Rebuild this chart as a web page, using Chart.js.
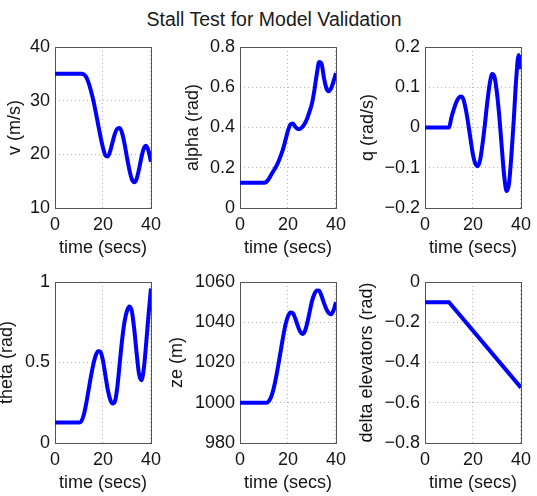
<!DOCTYPE html>
<html>
<head>
<meta charset="utf-8">
<title>Stall Test for Model Validation</title>
<script src="https://cdn.jsdelivr.net/npm/chart.js@4.4.1/dist/chart.umd.min.js"></script>
<style>
  body { margin: 0; background: #fff; width: 537px; height: 496px; position: relative; overflow: hidden; font-family: "Liberation Sans", Arial, sans-serif; }
  #title { position: absolute; left: 0; width: 548px; top: 10px; line-height: 19px; text-align: center; font-size: 19.5px; color: #1a1a1a; }
  canvas { position: absolute; }
</style>
</head>
<body>
<div id="title">Stall Test for Model Validation</div>
<canvas id="vChart"></canvas>
<canvas id="alphaChart"></canvas>
<canvas id="qChart"></canvas>
<canvas id="thetaChart"></canvas>
<canvas id="zeChart"></canvas>
<canvas id="deltaChart"></canvas>
<script>
const time = [0, 1, 2, 3, 4, 5, 6, 7, 8, 9, 10, 11, 12, 13, 14, 15, 16, 17, 18, 19, 20,
  21, 22, 23, 24, 25, 26, 27, 28, 29, 30, 31, 32, 33, 34, 35, 36, 37, 38, 39, 40];

const velocity = [35, 35, 35, 35, 35, 35, 35, 35, 35, 35, 35, 35, 34.9, 34.4, 33.3, 31.8, 30, 27.8, 25.5, 23.2, 21.2,
  19.8, 19.6, 20.6, 22.3, 23.9, 24.8, 24.9, 23.9, 21.9, 19.4, 17.1, 15.4, 14.8, 15.4, 17.2, 19.4, 21.1, 21.6, 20.6, 18.6];

const alpha = [0.126, 0.126, 0.126, 0.126, 0.126, 0.126, 0.126, 0.126, 0.126, 0.126, 0.126, 0.13, 0.145, 0.165, 0.185, 0.205, 0.23, 0.26, 0.295, 0.34, 0.385,
  0.415, 0.42, 0.405, 0.393, 0.393, 0.403, 0.42, 0.445, 0.48, 0.52, 0.585, 0.665, 0.725, 0.715, 0.645, 0.595, 0.58, 0.595, 0.63, 0.67];

const pitchRate = [0, 0, 0, 0, 0, 0, 0, 0, 0, 0, 0, 0.025, 0.045, 0.062, 0.073, 0.077, 0.07, 0.045, 0.01, -0.03, -0.068,
  -0.09, -0.096, -0.08, -0.04, 0.01, 0.065, 0.11, 0.133, 0.125, 0.085, 0.025, -0.05, -0.12, -0.158, -0.14, -0.07, 0.02, 0.12, 0.18, 0.145];

const theta = [0.127, 0.127, 0.127, 0.127, 0.127, 0.127, 0.127, 0.127, 0.127, 0.127, 0.127, 0.135, 0.175, 0.245, 0.33, 0.415, 0.49, 0.545, 0.57, 0.565, 0.51,
  0.42, 0.33, 0.27, 0.245, 0.26, 0.35, 0.5, 0.645, 0.755, 0.82, 0.848, 0.82, 0.71, 0.56, 0.43, 0.39, 0.46, 0.62, 0.8, 0.96];

const altitude = [1000, 1000, 1000, 1000, 1000, 1000, 1000, 1000, 1000, 1000, 1000, 1000, 1000.8, 1003, 1007, 1012.5, 1019, 1026, 1033, 1039, 1043,
  1044.8, 1044.5, 1042, 1038.5, 1035.5, 1034.2, 1035.5, 1039.5, 1045, 1050.5, 1054, 1055.8, 1055.7, 1053, 1049.5, 1046.5, 1044.5, 1044, 1046, 1050];

const elevatorTime = [0, 10, 40];
const elevator = [-0.1, -0.1, -0.525];

const timeTicks = [0, 20, 40];
const velocityTicks = [10, 20, 30, 40];
const alphaTicks = [0, 0.2, 0.4, 0.6, 0.8];
const pitchRateTicks = [-0.2, -0.1, 0, 0.1, 0.2];
const thetaTicks = [0, 0.5, 1];
const altitudeTicks = [980, 1000, 1020, 1040, 1060];
const elevatorTicks = [-0.8, -0.6, -0.4, -0.2, 0];

Chart.defaults.font.family = '"Liberation Sans", Arial, sans-serif';
Chart.defaults.color = "#151515";

const PLOT_W = 98;
const PLOT_H = 163;
const PAD_TOP = 12;
const PAD_RIGHT = 16;
const X_AXIS_H = 49;

// box drawn round each plot area, like the MATLAB axes
const framePlugin = {
  id: "frame",
  beforeDatasetsDraw(chart) {
    const { ctx, chartArea: a } = chart;
    ctx.save();
    ctx.strokeStyle = "#555";
    ctx.lineWidth = 1;
    ctx.setLineDash([]);
    ctx.strokeRect(Math.round(a.left) + 0.5, Math.round(a.top) + 0.5,
      Math.round(a.right - a.left), Math.round(a.bottom - a.top));
    ctx.restore();
  }
};

function fmt(v) {
  return String(v).replace("-", "\u2212");
}

function makeChart(id, pos, xs, ys, yTicks, yLabel, smooth) {
  const canvas = document.getElementById(id);
  const w = pos.axisW + PLOT_W + PAD_RIGHT;
  const h = PAD_TOP + PLOT_H + X_AXIS_H;
  canvas.width = w;
  canvas.height = h;
  canvas.style.left = (pos.left - pos.axisW) + "px";
  canvas.style.top = (pos.top - PAD_TOP) + "px";

  const font = { size: 18, lineHeight: 1 };
  const grid = { drawTicks: false, color: "#b4b4b4", lineWidth: 1 };
  const border = { display: false, dash: [1, 3] };

  new Chart(canvas.getContext("2d"), {
    type: "line",
    data: {
      datasets: [{
        data: xs.map((x, i) => ({ x: x, y: ys[i] })),
        borderColor: "#0000ff",
        borderWidth: 4,
        pointRadius: 0,
        fill: false,
        cubicInterpolationMode: smooth ? "monotone" : "default",
        tension: 0
      }]
    },
    options: {
      responsive: false,
      animation: false,
      layout: { padding: { top: PAD_TOP, right: PAD_RIGHT, left: 0, bottom: 0 } },
      plugins: { legend: { display: false }, tooltip: { enabled: false } },
      scales: {
        x: {
          type: "linear",
          min: timeTicks[0],
          max: timeTicks[timeTicks.length - 1],
          afterBuildTicks: (scale) => { scale.ticks = timeTicks.map((v) => ({ value: v })); },
          afterFit: (scale) => { scale.height = X_AXIS_H; },
          ticks: { font: font, padding: 8, maxRotation: 0, callback: fmt },
          grid: grid,
          border: border,
          title: { display: true, text: "time (secs)", font: font, padding: 0 }
        },
        y: {
          type: "linear",
          min: yTicks[0],
          max: yTicks[yTicks.length - 1],
          afterBuildTicks: (scale) => { scale.ticks = yTicks.map((v) => ({ value: v })); },
          afterFit: (scale) => { scale.width = pos.axisW; },
          ticks: { font: font, padding: 5, callback: fmt },
          grid: grid,
          border: border,
          title: { display: true, text: yLabel, font: font, padding: 0 }
        }
      }
    },
    plugins: [framePlugin]
  });
}

document.addEventListener("DOMContentLoaded", () => {
  makeChart("vChart", { left: 55, top: 45, axisW: 49 }, time, velocity, velocityTicks, "v (m/s)", true);
  makeChart("alphaChart", { left: 240, top: 45, axisW: 56 }, time, alpha, alphaTicks, "alpha (rad)", true);
  makeChart("qChart", { left: 425, top: 45, axisW: 66 }, time, pitchRate, pitchRateTicks, "q (rad/s)", true);
  makeChart("thetaChart", { left: 55, top: 280, axisW: 57 }, time, theta, thetaTicks, "theta (rad)", true);
  makeChart("zeChart", { left: 240, top: 280, axisW: 72 }, time, altitude, altitudeTicks, "ze (m)", true);
  makeChart("deltaChart", { left: 425, top: 280, axisW: 67 }, elevatorTime, elevator, elevatorTicks, "delta elevators (rad)", false);
});
</script>
</body>
</html>
